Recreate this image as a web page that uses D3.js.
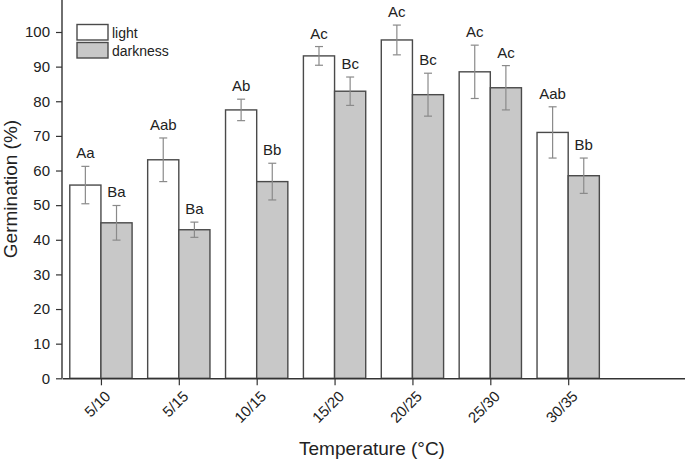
<!DOCTYPE html>
<html><head><meta charset="utf-8">
<script src="https://cdn.jsdelivr.net/npm/d3@7"></script>
<style>body{margin:0;background:#fff}svg{display:block;font-family:Arial,"Liberation Sans",sans-serif}</style>
</head><body>
<script>
const categories = ["5/10","5/15","10/15","15/20","20/25","25/30","30/35"];
const lightValues = [55.8, 63.1, 77.5, 93.1, 97.7, 88.5, 71.0];
const lightErrors = [5.4, 6.3, 3.1, 2.7, 4.3, 7.7, 7.4];
const lightLabels = ["Aa","Aab","Ab","Ac","Ac","Ac","Aab"];
const darkValues = [44.9, 42.9, 56.8, 82.9, 81.9, 83.9, 58.5];
const darkErrors = [5.0, 2.2, 5.3, 4.1, 6.2, 6.4, 5.1];
const darkLabels = ["Ba","Ba","Bb","Bc","Bc","Ac","Bb"];
const yTicks = [0,10,20,30,40,50,60,70,80,90,100];
const seriesNames = ["light","darkness"];

const W = 685, H = 461;
const svg = d3.select("body").append("svg").attr("width", W).attr("height", H);

const x = d3.scaleLinear().domain([0.5, 8.5]).range([62, 685]);
const y = d3.scaleLinear().domain([0, 100]).range([378.3, 32]);
const barW = 0.4;

const series = [
  {name: seriesNames[0], values: lightValues, errs: lightErrors, labels: lightLabels, off: -barW, fill: "#ffffff"},
  {name: seriesNames[1], values: darkValues, errs: darkErrors, labels: darkLabels, off: 0, fill: "#c8c8c8"}
];

series.forEach(s => {
  const g = svg.append("g");
  categories.forEach((c, i) => {
    const xc = i + 1 + s.off;
    g.append("rect")
      .attr("x", x(xc))
      .attr("y", y(s.values[i]))
      .attr("width", x(xc + barW) - x(xc))
      .attr("height", y(0) - y(s.values[i]))
      .attr("fill", s.fill)
      .attr("stroke", "#4a4a4a")
      .attr("stroke-width", 1.4);
  });
});

series.forEach(s => {
  const g = svg.append("g").attr("stroke", "#8a8a8a").attr("stroke-width", 1.2);
  categories.forEach((c, i) => {
    const cx = x(i + 1 + s.off + barW / 2);
    const top = y(s.values[i] + s.errs[i]), bot = y(s.values[i] - s.errs[i]);
    g.append("line").attr("x1", cx).attr("x2", cx).attr("y1", top).attr("y2", bot);
    g.append("line").attr("x1", cx - 4).attr("x2", cx + 4).attr("y1", top).attr("y2", top);
    g.append("line").attr("x1", cx - 4).attr("x2", cx + 4).attr("y1", bot).attr("y2", bot);
  });
  categories.forEach((c, i) => {
    const cx = x(i + 1 + s.off + barW / 2);
    svg.append("text")
      .attr("x", cx)
      .attr("y", y(s.values[i] + s.errs[i]) - 8)
      .attr("text-anchor", "middle")
      .attr("font-size", 15)
      .attr("fill", "#222")
      .text(s.labels[i]);
  });
});

// Y axis
const yAxis = d3.axisLeft(y).tickValues(yTicks).tickSize(6).tickPadding(6).tickSizeOuter(0);
const yg = svg.append("g").attr("transform", "translate(62,0)").call(yAxis);
yg.select(".domain").remove();
yg.append("line").attr("x1", 0).attr("x2", 0).attr("y1", 0).attr("y2", y(0)).attr("stroke", "#333").attr("stroke-width", 1.4);
yg.selectAll(".tick line").attr("stroke", "#333").attr("stroke-width", 1.2);
yg.selectAll(".tick text").attr("font-size", 15).attr("fill", "#222").attr("font-family", "Arial, 'Liberation Sans', sans-serif");

// X axis
const xAxis = d3.axisBottom(x).tickValues(d3.range(1, categories.length + 1))
  .tickFormat(d => categories[d - 1]).tickSize(7).tickSizeOuter(0);
const xg = svg.append("g").attr("transform", `translate(0,${y(0)})`).call(xAxis);
xg.select(".domain").attr("stroke", "#333").attr("stroke-width", 1.4);
xg.selectAll(".tick line").attr("stroke", "#333").attr("stroke-width", 1.2);
xg.selectAll(".tick text")
  .attr("font-size", 15).attr("fill", "#222").attr("font-family", "Arial, 'Liberation Sans', sans-serif")
  .attr("text-anchor", "end")
  .attr("dy", 0).attr("y", 0)
  .attr("transform", "translate(10,19) rotate(-45)");

// Axis titles
svg.append("text").attr("transform", "translate(17,189) rotate(-90)")
  .attr("text-anchor", "middle").attr("font-size", 19).attr("fill", "#222").text("Germination (%)");
svg.append("text").attr("x", 372).attr("y", 455)
  .attr("text-anchor", "middle").attr("font-size", 19).attr("fill", "#222").text("Temperature (°C)");

// Legend
const lg = svg.append("g");
series.forEach((s, i) => {
  lg.append("rect").attr("x", 77).attr("y", 24.5 + i * 18).attr("width", 31).attr("height", 15.5)
    .attr("fill", s.fill).attr("stroke", "#4a4a4a").attr("stroke-width", 1.4);
  lg.append("text").attr("x", 112).attr("y", 37.5 + i * 18).attr("font-size", 14).attr("fill", "#222").text(s.name);
});
</script>
</body></html>
